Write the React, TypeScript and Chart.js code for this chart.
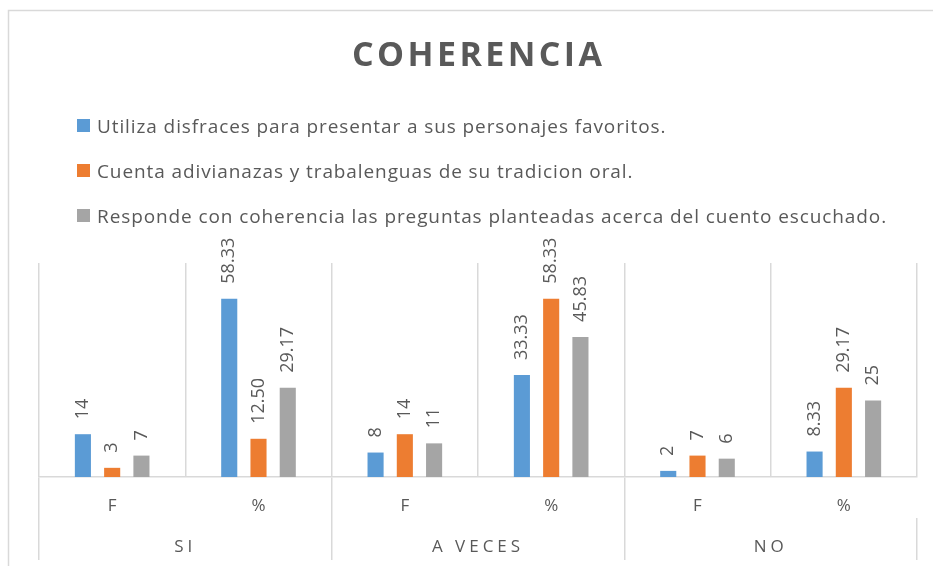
import React, { useEffect, useRef } from "react";
import { Chart, registerables } from "chart.js";

Chart.register(...registerables);

// ---- data ----
const title = "COHERENCIA";
const subCategories = ["F", "%", "F", "%", "F", "%"];
const groups = ["SI", "A VECES", "NO"];
const seriesNames = [
  "Utiliza disfraces para presentar a sus personajes favoritos.",
  "Cuenta adivianazas y trabalenguas de su tradicion oral.",
  "Responde con coherencia las preguntas planteadas acerca del cuento escuchado.",
];
const utilizaDisfraces = ["14", "58.33", "8", "33.33", "2", "8.33"];
const cuentaAdivinanzas = ["3", "12.50", "14", "58.33", "7", "29.17"];
const respondeCoherencia = ["7", "29.17", "11", "45.83", "6", "25"];
const colors = ["#5B9BD5", "#ED7D31", "#A5A5A5"];
const yMax = 70;

const TEXT = "#595959";
const GRID = "#d9d9d9";
const FONT = '"Open Sans"';

const framePlugin = {
  id: "frame",
  beforeDraw(chart: any) {
    const ctx = chart.ctx;
    ctx.save();
    ctx.fillStyle = "#ffffff";
    ctx.fillRect(0, 0, chart.width, chart.height);
    ctx.strokeStyle = GRID;
    ctx.lineWidth = 1.5;
    ctx.strokeRect(8.5, 10.5, 1000, 1000);
    ctx.restore();
  },
};

const headerPlugin = {
  id: "header",
  afterDraw(chart: any) {
    const ctx = chart.ctx;
    ctx.save();
    ctx.fillStyle = TEXT;
    ctx.font = `bold 34px ${FONT}`;
    ctx.textAlign = "center";
    ctx.textBaseline = "alphabetic";
    (ctx as any).letterSpacing = "3.4px";
    ctx.fillText(title, 477 + 1.7, 66);
    (ctx as any).letterSpacing = "0.9px";
    ctx.font = `19px ${FONT}`;
    ctx.textAlign = "left";
    chart.data.datasets.forEach((ds: any, i: number) => {
      const top = 119 + i * 45;
      ctx.fillStyle = ds.backgroundColor;
      ctx.fillRect(77, top, 13, 13);
      ctx.fillStyle = TEXT;
      ctx.fillText(ds.label, 97, top + 14);
    });
    ctx.restore();
  },
};

const barLabelPlugin = {
  id: "barLabels",
  afterDatasetsDraw(chart: any) {
    const ctx = chart.ctx;
    ctx.save();
    ctx.fillStyle = TEXT;
    ctx.font = `18px ${FONT}`;
    chart.data.datasets.forEach((ds: any, di: number) => {
      const meta = chart.getDatasetMeta(di);
      meta.data.forEach((bar: any, i: number) => {
        ctx.save();
        ctx.translate(bar.x, bar.y - 15);
        ctx.rotate(-Math.PI / 2);
        ctx.textAlign = "left";
        ctx.textBaseline = "middle";
        ctx.fillText(String(ds.data[i]), 0, 0);
        ctx.restore();
      });
    });
    ctx.restore();
  },
};

const spacingPlugin = {
  id: "groupSpacing",
  afterLayout(chart: any) {
    const s = chart.scales.x2;
    if (!s || s.__patched) return;
    const orig = s.drawLabels.bind(s);
    s.drawLabels = (area: any) => {
      const ctx = chart.ctx;
      ctx.save();
      (ctx as any).letterSpacing = "4px";
      orig(area);
      ctx.restore();
    };
    s.__patched = true;
  },
};

export default function App() {
  const ref = useRef<HTMLCanvasElement | null>(null);
  useEffect(() => {
    if (!ref.current) return;
    const seriesData = [utilizaDisfraces, cuentaAdivinanzas, respondeCoherencia];
    const chart = new Chart(ref.current, {
      type: "bar",
      data: {
        labels: subCategories,
        datasets: seriesData.map((d, i) => ({
          label: seriesNames[i],
          data: d as any,
          backgroundColor: colors[i],
          borderWidth: 0,
          categoryPercentage: 0.6,
          barPercentage: 0.55,
        })),
      },
      options: {
        responsive: false,
        animation: false,
        devicePixelRatio: 1,
        layout: { padding: { top: 263, left: 39, right: 16, bottom: 6 } },
        plugins: {
          legend: { display: false },
          title: { display: false },
          tooltip: { enabled: false },
        },
        scales: {
          y: { display: false, min: 0, max: yMax },
          x: {
            weight: 1,
            offset: true,
            grid: {
              offset: true,
              color: GRID,
              lineWidth: 1.5,
              drawTicks: true,
              tickLength: 41,
              tickColor: (c: any) => (c.index % 2 === 0 ? GRID : "rgba(0,0,0,0)"),
            },
            border: { display: true, color: GRID, width: 1.5 },
            ticks: { color: TEXT, font: { family: FONT, size: 17 }, padding: -21.6 },
            afterFit: (s: any) => {
              s.height = 41;
            },
          },
          x2: {
            type: "category",
            labels: groups,
            position: "bottom",
            weight: 2,
            offset: true,
            grid: {
              offset: true,
              drawOnChartArea: false,
              color: GRID,
              lineWidth: 1.5,
              tickLength: 42,
            },
            border: { display: false },
            ticks: { color: TEXT, font: { family: FONT, size: 17 }, padding: -22.6 },
            afterFit: (s: any) => {
              s.height = 42;
            },
          },
        },
      } as any,
      plugins: [framePlugin, headerPlugin, barLabelPlugin, spacingPlugin],
    });
    return () => chart.destroy();
  }, []);
  return (
    <div style={{ position: "absolute", left: 0, top: 0, width: 933, height: 566 }}>
      <canvas ref={ref} width={933} height={566} />
    </div>
  );
}
